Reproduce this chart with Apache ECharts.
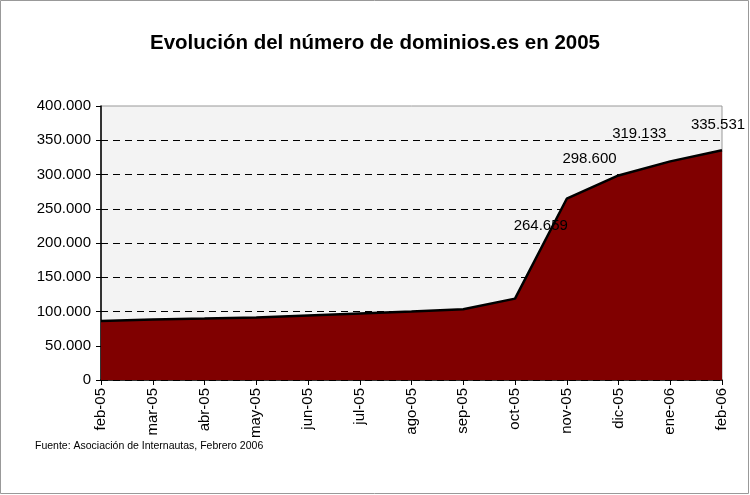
<!DOCTYPE html>
<html lang="es">
<head>
    <meta charset="UTF-8">
    <title>Dominios .es 2005</title>
    <script src="https://cdn.jsdelivr.net/npm/echarts@6/dist/echarts.min.js"></script>
    <style>
        html, body { margin: 0; padding: 0; background: #fff; }
        #chart { width: 750px; height: 495px; }
    </style>
</head>
<body>
<div id="chart"></div>
<script type="text/javascript">
    var months = ['feb-05', 'mar-05', 'abr-05', 'may-05', 'jun-05', 'jul-05', 'ago-05',
        'sep-05', 'oct-05', 'nov-05', 'dic-05', 'ene-06', 'feb-06'];
    var dominios = [86300, 88300, 89700, 91200, 94100, 97000, 99900,
        103300, 118800, 264659, 298600, 319133, 335531];
    var labelled = [9, 10, 11, 12];
    var labelOffsets = [[-26, 27], [-29, -17], [-31, -28], [-4, -25]];

    function fmt(v) {
        return String(v).replace(/\B(?=(\d{3})+(?!\d))/g, '.');
    }

    var seriesData = dominios.map(function (v, i) {
        var k = labelled.indexOf(i);
        if (k < 0) return v;
        return {
            value: v,
            label: {
                show: true,
                position: 'inside',
                offset: labelOffsets[k],
                formatter: function (p) { return fmt(p.value); },
                color: '#000',
                fontFamily: 'Liberation Sans',
                fontSize: 15
            }
        };
    });

    var chart = echarts.init(document.getElementById('chart'));
    chart.setOption({
        animation: false,
        backgroundColor: '#fff',
        title: {
            text: 'Evolución del número de dominios.es en 2005',
            left: 'center',
            top: 28,
            textStyle: {
                fontFamily: 'Liberation Sans',
                fontWeight: 'bold',
                fontSize: 20.5,
                color: '#000'
            }
        },
        graphic: [
            {
                type: 'rect',
                shape: { x: 0.5, y: 0.5, width: 748, height: 493 },
                style: { fill: 'none', stroke: '#999', lineWidth: 1 },
                silent: true
            },
            {
                type: 'text',
                left: 35,
                top: 441,
                style: {
                    text: 'Fuente: Asociación de Internautas, Febrero 2006',
                    fontFamily: 'Liberation Sans',
                    fontSize: 10.5,
                    fill: '#000'
                }
            }
        ],
        grid: {
            left: 101,
            right: 28,
            top: 106,
            bottom: 115,
            show: true,
            backgroundColor: '#f3f3f3',
            borderColor: '#999',
            borderWidth: 1
        },
        xAxis: {
            type: 'category',
            data: months,
            boundaryGap: false,
            axisLine: { lineStyle: { color: '#000', width: 1.5 } },
            axisTick: { show: true, length: 5, lineStyle: { color: '#000' } },
            axisLabel: {
                rotate: 90,
                interval: 0,
                margin: 8,
                fontFamily: 'Liberation Sans',
                fontSize: 15,
                color: '#000'
            },
            splitLine: { show: false }
        },
        yAxis: {
            type: 'value',
            min: 0,
            max: 400000,
            interval: 50000,
            axisLine: { show: true, lineStyle: { color: '#000', width: 1.5 } },
            axisTick: { show: true, length: 5, lineStyle: { color: '#000' } },
            axisLabel: {
                margin: 10,
                fontFamily: 'Liberation Sans',
                fontSize: 15,
                color: '#000',
                formatter: function (v) { return fmt(v); }
            },
            splitLine: {
                show: true,
                showMaxLine: false,
                lineStyle: { color: '#000', type: [7, 5], width: 1 }
            }
        },
        series: [
            {
                type: 'line',
                data: seriesData,
                symbol: 'circle',
                symbolSize: 0,
                showSymbol: true,
                lineStyle: { color: '#000', width: 2.5 },
                areaStyle: { color: '#800000', opacity: 1 },
                z: 3
            }
        ]
    });
</script>
</body>
</html>
